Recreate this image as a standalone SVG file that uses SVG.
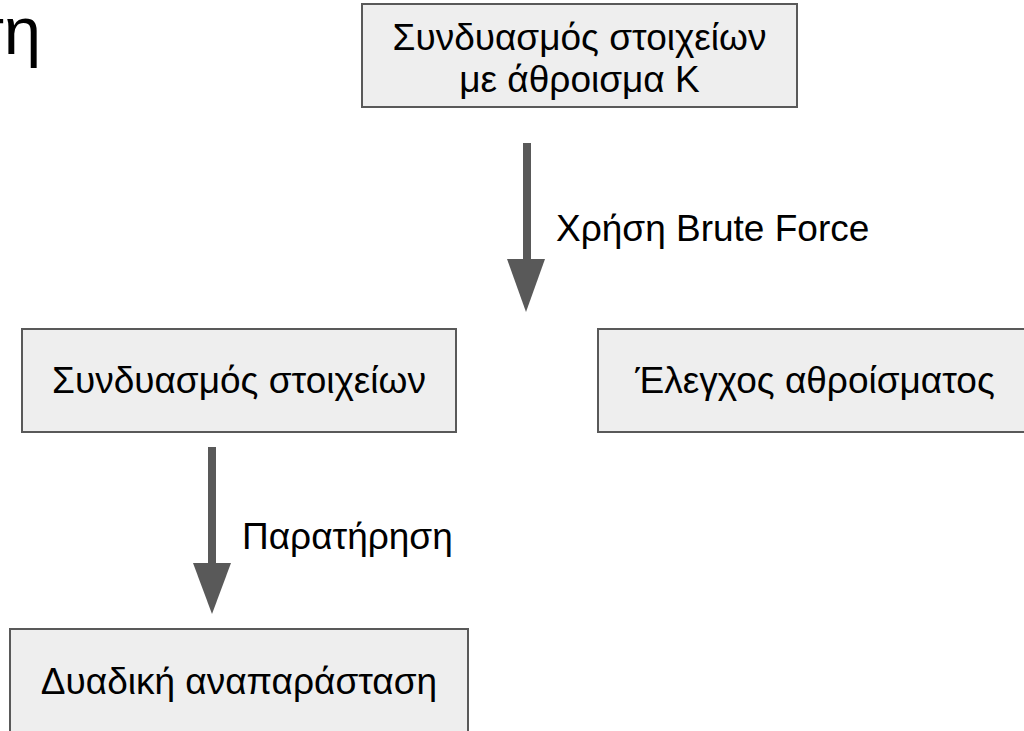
<svg xmlns="http://www.w3.org/2000/svg" width="1024" height="731" viewBox="0 0 1024 731">
<style>
.box{fill:#eeeeee;stroke:#595959;stroke-width:2}
.t{font-family:"Liberation Sans",Arial,sans-serif;font-size:37px;fill:#000}
.c{text-anchor:middle}
.shaft{stroke:#595959;stroke-width:8;fill:none}
.head{fill:#595959}
</style>
<rect width="1024" height="731" fill="#ffffff"/>
<g id="title">
<text x="41" y="54" font-family="Liberation Sans, Arial, sans-serif" font-size="67" text-anchor="end" fill="#000">τη</text>
</g>
<g id="node-top">
<rect class="box" x="362" y="4" width="435" height="103"/>
<text class="t c" x="579.5" y="50">Συνδυασμός στοιχείων</text>
<text class="t c" x="579.5" y="92">με άθροισμα Κ</text>
</g>
<g id="node-left">
<rect class="box" x="22" y="329" width="434" height="103"/>
<text class="t c" x="239" y="393">Συνδυασμός στοιχείων</text>
</g>
<g id="node-right">
<rect class="box" x="598" y="329" width="440" height="103"/>
<text class="t c" x="815" y="393">Έλεγχος αθροίσματος</text>
</g>
<g id="node-bottom">
<rect class="box" x="10" y="629" width="458" height="110"/>
<text class="t c" x="239" y="694">Δυαδική αναπαράσταση</text>
</g>
<g id="connectors">
<line class="shaft" x1="527" y1="143" x2="527" y2="262"/>
<polygon class="head" points="507,259 545,259 526,312"/>
<text class="t" x="556" y="241">Χρήση Brute Force</text>
<line class="shaft" x1="212" y1="447" x2="212" y2="566"/>
<polygon class="head" points="193,563 231,563 212,614"/>
<text class="t" x="242" y="549">Παρατήρηση</text>
</g>
</svg>
